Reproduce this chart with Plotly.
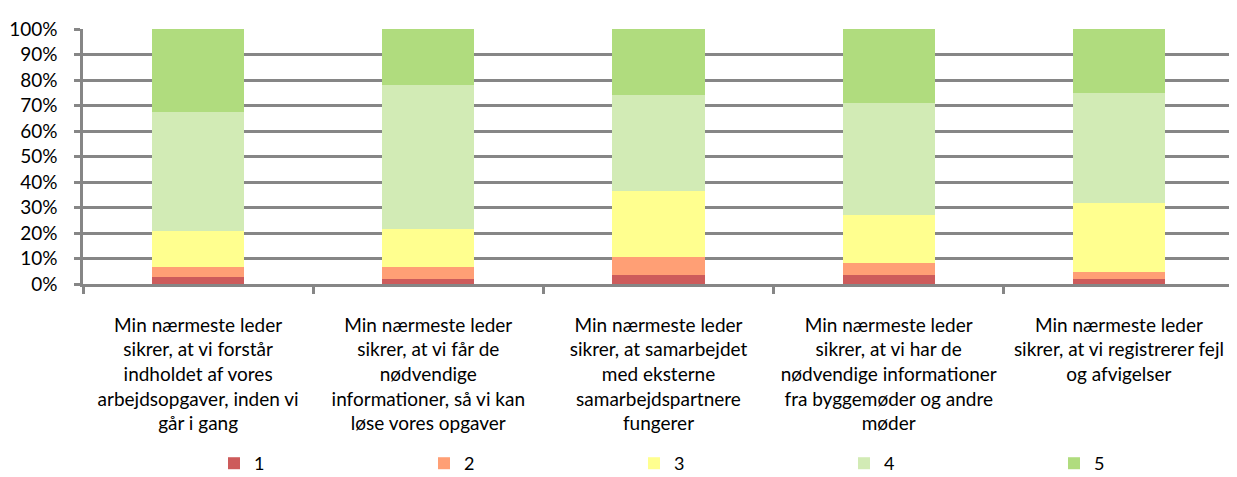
import plotly.graph_objects as go

categories = [
    "Min nærmeste leder<br>sikrer, at vi forstår<br>indholdet af vores<br>arbejdsopgaver, inden vi<br>går i gang",
    "Min nærmeste leder<br>sikrer, at vi får de<br>nødvendige<br>informationer, så vi kan<br>løse vores opgaver",
    "Min nærmeste leder<br>sikrer, at samarbejdet<br>med eksterne<br>samarbejdspartnere<br>fungerer",
    "Min nærmeste leder<br>sikrer, at vi har de<br>nødvendige informationer<br>fra byggemøder og andre<br>møder",
    "Min nærmeste leder<br>sikrer, at vi registrerer fejl<br>og afvigelser",
]
series_names = ["1", "2", "3", "4", "5"]
s1 = [2.6, 1.8, 3.4, 3.4, 1.8]
s2 = [3.9, 4.7, 7.0, 4.7, 3.1]
s3 = [14.1, 14.9, 26.2, 19.1, 26.7]
s4 = [46.7, 56.8, 37.6, 43.9, 43.4]
s5 = [32.7, 21.8, 25.8, 28.9, 25.0]
colors = ["#CD5B5B", "#FF9F75", "#FFFF8F", "#D2EBB5", "#B0DC7E"]

fig = go.Figure()
for name, vals, col in zip(series_names, [s1, s2, s3, s4, s5], colors):
    fig.add_trace(go.Bar(x=categories, y=vals, name=name,
                         marker=dict(color=col, line=dict(width=0)),
                         width=0.4))

font_family = "Lato, 'Open Sans', sans-serif"
fig.update_layout(
    barmode="stack",
    width=1229, height=469,
    margin=dict(l=75, r=3, t=21, b=193, autoexpand=False),
    plot_bgcolor="white", paper_bgcolor="white",
    font=dict(family=font_family, size=19, color="black"),
    legend=dict(orientation="h", x=0.1138, xanchor="left", y=-0.704, yanchor="middle",
                entrywidth=165, entrywidthmode="pixels", bgcolor="rgba(0,0,0,0)",
                font=dict(size=18), traceorder="normal", itemwidth=30),
    bargap=0.6,
)
fig.update_yaxes(range=[0, 100], tickvals=[0, 10, 20, 30, 40, 50, 60, 70, 80, 90, 100],
                 ticktext=[f"{v}%" for v in range(0, 101, 10)],
                 showgrid=True, gridcolor="#868686", gridwidth=2.5,
                 showline=True, linecolor="#868686", linewidth=2.5,
                 ticks="outside", ticklen=6, tickcolor="#868686", tickwidth=2.5,
                 ticklabelstandoff=13, zeroline=False, automargin=False,
                 tickfont=dict(size=19))
fig.update_xaxes(showline=True, linecolor="#868686", linewidth=2.5,
                 ticks="outside", ticklen=7, tickcolor="#868686", tickwidth=2.5,
                 tickson="boundaries", tickangle=0, automargin=False,
                 ticklabelstandoff=22, tickfont=dict(size=19))

fig.write_html("out.html")
